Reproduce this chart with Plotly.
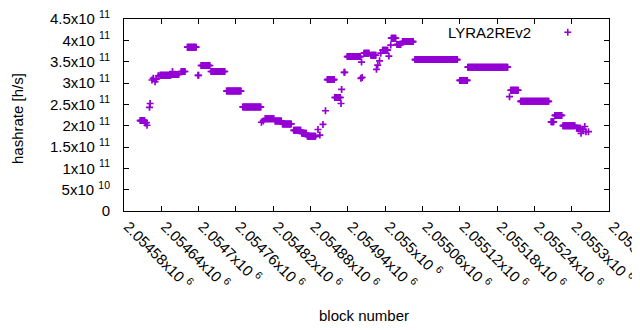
import plotly.graph_objects as go

# Runs of consecutive blocks sharing one hashrate value (start block, end block, hashrate)
run_start = [2054606, 2054638, 2054657, 2054672, 2054682, 2054704, 2054720, 2054745, 2054771,
             2054807, 2054823, 2054835, 2054853, 2054866, 2054875, 2054907, 2054919, 2054939,
             2054966, 2054977, 2054996, 2055010, 2055019, 2055028, 2055048, 2055120, 2055133,
             2055202, 2055218, 2055267, 2055273, 2055286, 2055308]
run_end = [2054613, 2054655, 2054668, 2054678, 2054696, 2054718, 2054742, 2054768, 2054800,
           2054821, 2054833, 2054849, 2054864, 2054873, 2054888, 2054918, 2054928, 2054960,
           2054974, 2054985, 2055004, 2055017, 2055025, 2055045, 2055116, 2055132, 2055197,
           2055214, 2055263, 2055271, 2055284, 2055305, 2055314]
run_hashrate = [2.12e11, 3.18e11, 3.20e11, 3.27e11, 3.84e11, 3.41e11, 3.27e11, 2.81e11, 2.44e11,
                2.16e11, 2.11e11, 2.04e11, 1.89e11, 1.82e11, 1.75e11, 3.08e11, 2.66e11, 3.62e11,
                3.70e11, 3.65e11, 3.77e11, 4.05e11, 3.90e11, 3.97e11, 3.55e11, 3.06e11, 3.37e11,
                2.83e11, 2.57e11, 2.09e11, 2.24e11, 2.00e11, 1.94e11]

# Isolated blocks
single_block = [2054614, 2054616, 2054617, 2054621, 2054622, 2054625, 2054627, 2054630, 2054632,
                2054635, 2054658, 2054699, 2054700, 2054801, 2054804, 2054892, 2054895, 2054900,
                2054904, 2054929, 2054930, 2054934, 2054935, 2054961, 2054962, 2054963, 2054986,
                2054988, 2054991, 2054993, 2055006, 2055009, 2055200, 2055315, 2055318, 2055321,
                2055323, 2055327]
single_hashrate = [2.06e11, 2.07e11, 2.01e11, 2.43e11, 2.52e11, 3.07e11, 3.11e11, 3.03e11, 3.09e11,
                   3.17e11, 3.27e11, 3.18e11, 3.18e11, 2.08e11, 2.11e11, 1.91e11, 1.78e11, 2.03e11,
                   2.35e11, 2.52e11, 2.85e11, 3.25e11, 3.25e11, 3.11e11, 3.49e11, 3.13e11, 3.32e11,
                   3.42e11, 3.52e11, 3.70e11, 3.63e11, 3.89e11, 2.68e11, 1.82e11, 1.91e11, 1.98e11,
                   1.86e11, 1.86e11]

x_tick_vals = [2054580, 2054640, 2054700, 2054760, 2054820, 2054880, 2054940, 2055000,
               2055060, 2055120, 2055180, 2055240, 2055300, 2055360]
x_tick_mant = ["2.05458", "2.05464", "2.0547", "2.05476", "2.05482", "2.05488", "2.05494", "2.055",
               "2.05506", "2.05512", "2.05518", "2.05524", "2.0553", "2.05536"]
y_tick_vals = [0, 5e10, 1e11, 1.5e11, 2e11, 2.5e11, 3e11, 3.5e11, 4e11, 4.5e11]
y_tick_mant = ["0", "5", "1", "1.5", "2", "2.5", "3", "3.5", "4", "4.5"]
y_tick_exp = ["", "10", "11", "11", "11", "11", "11", "11", "11", "11"]

blocks, rates = [], []
for s, e, v in zip(run_start, run_end, run_hashrate):
    for b in range(s, e + 1):
        blocks.append(b)
        rates.append(v)
blocks += single_block
rates += single_hashrate

color = "#9400D3"
font = dict(family="Liberation Sans, Arial, sans-serif", size=15, color="#000000")

fig = go.Figure()
fig.add_trace(go.Scatter(
    x=blocks, y=rates, mode="markers", showlegend=False,
    marker=dict(symbol="cross-thin", size=5, color=color,
                line=dict(width=1.7, color=color)),
))

x_text = [m + "x10 <sup>6</sup>" for m in x_tick_mant]
y_text = [m if not e else m + "x10 <sup>" + e + "</sup>" for m, e in zip(y_tick_mant, y_tick_exp)]

axis_common = dict(showline=True, linecolor="black", linewidth=1, mirror="allticks",
                   ticks="inside", ticklen=5, tickcolor="black", tickwidth=1,
                   showgrid=False, zeroline=False, tickfont=font, automargin=False,
                   ticklabeloverflow="allow")

# the page body keeps the browser's default 8px margin, so the figure is 8px smaller
fig.update_layout(
    width=632, height=322,
    margin=dict(l=116, r=31, t=11, b=119),
    paper_bgcolor="white", plot_bgcolor="white",
    font=font,
    xaxis=dict(range=[2054580, 2055360], tickmode="array", tickvals=x_tick_vals,
               ticktext=x_text, tickangle=45, ticklabelstandoff=0, ticklabelshift=4,
               **axis_common),
    yaxis=dict(range=[0, 4.5e11], tickmode="array", tickvals=y_tick_vals,
               ticktext=y_text, ticklabelstandoff=10, **axis_common),
    annotations=[
        dict(text="block number", xref="paper", yref="paper", x=0.495, y=-0.542,
             showarrow=False, font=font, xanchor="center", yanchor="middle"),
        dict(text="hashrate [h/s]", xref="paper", yref="paper", x=-0.2206, y=0.479,
             showarrow=False, font=font, textangle=-90, xanchor="center", yanchor="middle"),
        dict(text="LYRA2REv2", xref="paper", yref="paper", x=0.843, y=0.931,
             showarrow=False, font=font, xanchor="right", yanchor="middle"),
    ],
    shapes=[
        dict(type="line", xref="paper", yref="paper", x0=0.908, x1=0.922, y0=0.931, y1=0.931,
             line=dict(color=color, width=1.6)),
        dict(type="line", xref="paper", yref="paper", x0=0.915, x1=0.915, y0=0.913, y1=0.949,
             line=dict(color=color, width=1.6)),
    ],
)

fig.write_html("out.html")
